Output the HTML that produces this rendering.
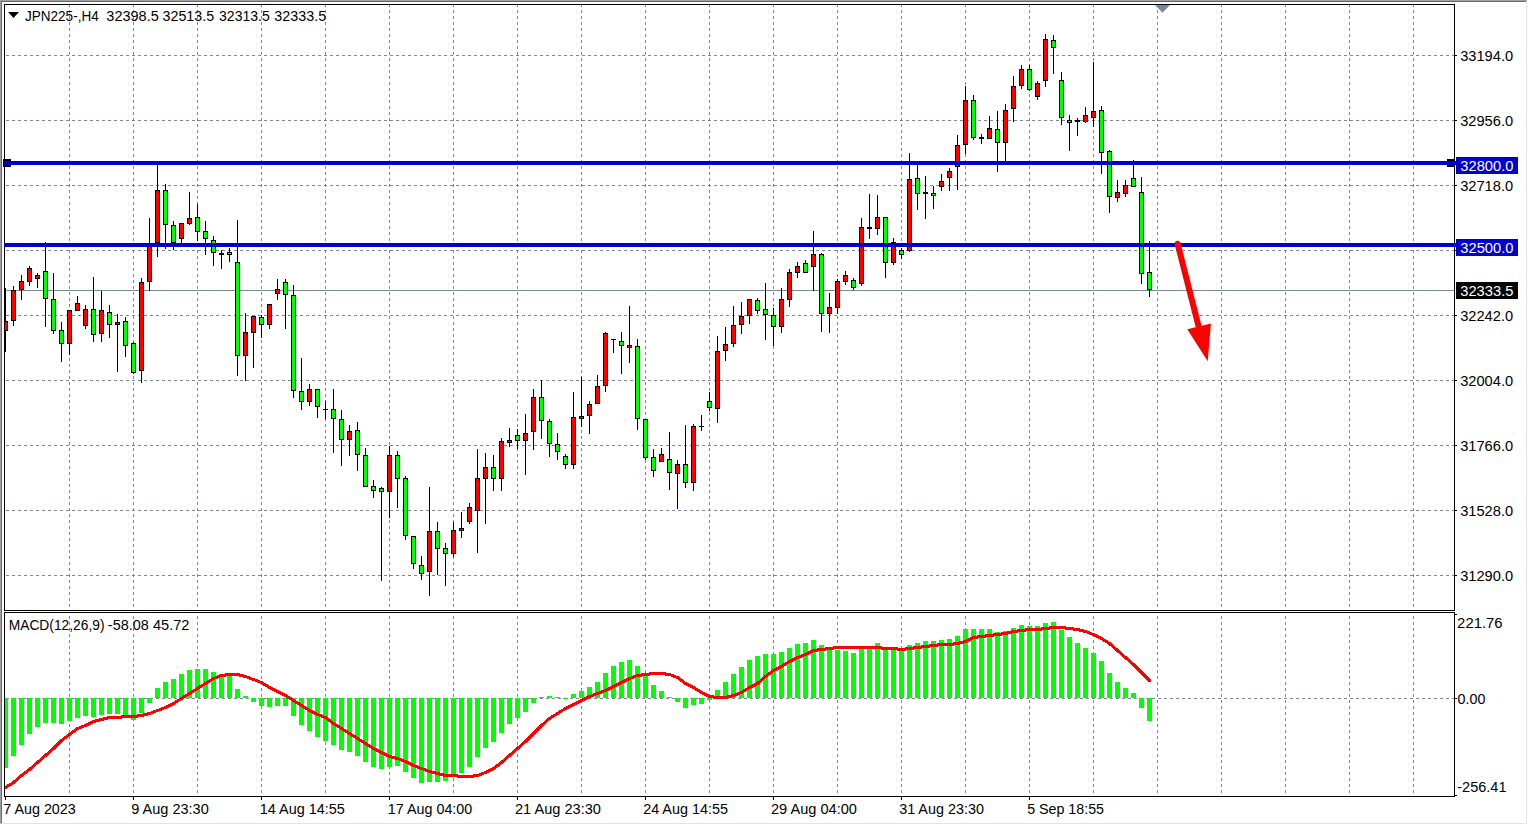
<!DOCTYPE html>
<html><head><meta charset="utf-8"><title>JPN225-,H4</title>
<style>
html,body{margin:0;padding:0;background:#fff;width:1528px;height:825px;overflow:hidden;}
svg{display:block;}
text{font-family:"Liberation Sans", Tahoma, sans-serif;}
</style></head><body>
<svg width="1528" height="825" viewBox="0 0 1528 825" shape-rendering="crispEdges"><rect x="0" y="0" width="1528" height="825" fill="#ffffff"/><rect x="0" y="0" width="1527" height="1" fill="#a0a0a0"/><rect x="0" y="0" width="1" height="824" fill="#a0a0a0"/><rect x="1" y="1" width="1526" height="1" fill="#696969"/><rect x="1" y="1" width="1" height="823" fill="#696969"/><rect x="1526" y="1" width="1" height="823" fill="#e3e3e3"/><rect x="1" y="823" width="1526" height="1" fill="#e3e3e3"/><g stroke="#778899" stroke-width="1" stroke-dasharray="3 3" fill="none"><line x1="69.5" y1="4" x2="69.5" y2="610" /><line x1="69.5" y1="616" x2="69.5" y2="796" /><line x1="133.5" y1="4" x2="133.5" y2="610" /><line x1="133.5" y1="616" x2="133.5" y2="796" /><line x1="197.5" y1="4" x2="197.5" y2="610" /><line x1="197.5" y1="616" x2="197.5" y2="796" /><line x1="261.5" y1="4" x2="261.5" y2="610" /><line x1="261.5" y1="616" x2="261.5" y2="796" /><line x1="325.5" y1="4" x2="325.5" y2="610" /><line x1="325.5" y1="616" x2="325.5" y2="796" /><line x1="389.5" y1="4" x2="389.5" y2="610" /><line x1="389.5" y1="616" x2="389.5" y2="796" /><line x1="453.5" y1="4" x2="453.5" y2="610" /><line x1="453.5" y1="616" x2="453.5" y2="796" /><line x1="517.5" y1="4" x2="517.5" y2="610" /><line x1="517.5" y1="616" x2="517.5" y2="796" /><line x1="581.5" y1="4" x2="581.5" y2="610" /><line x1="581.5" y1="616" x2="581.5" y2="796" /><line x1="645.5" y1="4" x2="645.5" y2="610" /><line x1="645.5" y1="616" x2="645.5" y2="796" /><line x1="709.5" y1="4" x2="709.5" y2="610" /><line x1="709.5" y1="616" x2="709.5" y2="796" /><line x1="773.5" y1="4" x2="773.5" y2="610" /><line x1="773.5" y1="616" x2="773.5" y2="796" /><line x1="837.5" y1="4" x2="837.5" y2="610" /><line x1="837.5" y1="616" x2="837.5" y2="796" /><line x1="901.5" y1="4" x2="901.5" y2="610" /><line x1="901.5" y1="616" x2="901.5" y2="796" /><line x1="965.5" y1="4" x2="965.5" y2="610" /><line x1="965.5" y1="616" x2="965.5" y2="796" /><line x1="1029.5" y1="4" x2="1029.5" y2="610" /><line x1="1029.5" y1="616" x2="1029.5" y2="796" /><line x1="1093.5" y1="4" x2="1093.5" y2="610" /><line x1="1093.5" y1="616" x2="1093.5" y2="796" /><line x1="1157.5" y1="4" x2="1157.5" y2="610" /><line x1="1157.5" y1="616" x2="1157.5" y2="796" /><line x1="1221.5" y1="4" x2="1221.5" y2="610" /><line x1="1221.5" y1="616" x2="1221.5" y2="796" /><line x1="1285.5" y1="4" x2="1285.5" y2="610" /><line x1="1285.5" y1="616" x2="1285.5" y2="796" /><line x1="1349.5" y1="4" x2="1349.5" y2="610" /><line x1="1349.5" y1="616" x2="1349.5" y2="796" /><line x1="1413.5" y1="4" x2="1413.5" y2="610" /><line x1="1413.5" y1="616" x2="1413.5" y2="796" /><line x1="6" y1="55.5" x2="1454" y2="55.5" /><line x1="6" y1="120.5" x2="1454" y2="120.5" /><line x1="6" y1="185.5" x2="1454" y2="185.5" /><line x1="6" y1="250.5" x2="1454" y2="250.5" /><line x1="6" y1="315.5" x2="1454" y2="315.5" /><line x1="6" y1="380.5" x2="1454" y2="380.5" /><line x1="6" y1="445.5" x2="1454" y2="445.5" /><line x1="6" y1="510.5" x2="1454" y2="510.5" /><line x1="6" y1="575.5" x2="1454" y2="575.5" /><line x1="6" y1="698.5" x2="1454" y2="698.5" /></g><g fill="none" stroke="#000" stroke-width="1"><rect x="4.5" y="4.5" width="1450" height="606"/><rect x="4.5" y="612.5" width="1450" height="184"/></g><rect x="5" y="290" width="1449" height="1" fill="#778899"/><defs><clipPath id="cm"><rect x="5" y="5" width="1449" height="605"/></clipPath><clipPath id="cs"><rect x="5" y="613" width="1449" height="183"/></clipPath></defs><g clip-path="url(#cm)"><rect x="5" y="288" width="1" height="64" fill="#000"/><rect x="3" y="321" width="5" height="10" fill="#000"/><rect x="4" y="322" width="3" height="8" fill="#ff0000"/><rect x="13" y="286" width="1" height="40" fill="#000"/><rect x="11" y="290" width="5" height="31" fill="#000"/><rect x="12" y="291" width="3" height="29" fill="#ff0000"/><rect x="21" y="275" width="1" height="25" fill="#000"/><rect x="19" y="281" width="5" height="9" fill="#000"/><rect x="20" y="282" width="3" height="7" fill="#ff0000"/><rect x="29" y="266" width="1" height="20" fill="#000"/><rect x="27" y="268" width="5" height="14" fill="#000"/><rect x="28" y="269" width="3" height="12" fill="#ff0000"/><rect x="37" y="273" width="1" height="15" fill="#000"/><rect x="35" y="275" width="5" height="4" fill="#000"/><rect x="36" y="276" width="3" height="2" fill="#ff0000"/><rect x="45" y="242" width="1" height="85" fill="#000"/><rect x="43" y="271" width="5" height="28" fill="#000"/><rect x="44" y="272" width="3" height="26" fill="#00ff00"/><rect x="53" y="273" width="1" height="61" fill="#000"/><rect x="51" y="299" width="5" height="32" fill="#000"/><rect x="52" y="300" width="3" height="30" fill="#00ff00"/><rect x="61" y="322" width="1" height="40" fill="#000"/><rect x="59" y="330" width="5" height="14" fill="#000"/><rect x="60" y="331" width="3" height="12" fill="#00ff00"/><rect x="69" y="310" width="1" height="45" fill="#000"/><rect x="67" y="310" width="5" height="34" fill="#000"/><rect x="68" y="311" width="3" height="32" fill="#ff0000"/><rect x="77" y="296" width="1" height="15" fill="#000"/><rect x="75" y="303" width="5" height="8" fill="#000"/><rect x="76" y="304" width="3" height="6" fill="#ff0000"/><rect x="85" y="305" width="1" height="24" fill="#000"/><rect x="83" y="309" width="5" height="17" fill="#000"/><rect x="84" y="310" width="3" height="15" fill="#ff0000"/><rect x="93" y="277" width="1" height="65" fill="#000"/><rect x="91" y="309" width="5" height="26" fill="#000"/><rect x="92" y="310" width="3" height="24" fill="#00ff00"/><rect x="101" y="291" width="1" height="51" fill="#000"/><rect x="99" y="310" width="5" height="24" fill="#000"/><rect x="100" y="311" width="3" height="22" fill="#ff0000"/><rect x="109" y="305" width="1" height="33" fill="#000"/><rect x="107" y="312" width="5" height="13" fill="#000"/><rect x="108" y="313" width="3" height="11" fill="#00ff00"/><rect x="117" y="314" width="1" height="58" fill="#000"/><rect x="115" y="322" width="5" height="3" fill="#000"/><rect x="116" y="323" width="3" height="1" fill="#ff0000"/><rect x="125" y="317" width="1" height="40" fill="#000"/><rect x="123" y="321" width="5" height="25" fill="#000"/><rect x="124" y="322" width="3" height="23" fill="#00ff00"/><rect x="133" y="342" width="1" height="32" fill="#000"/><rect x="131" y="343" width="5" height="30" fill="#000"/><rect x="132" y="344" width="3" height="28" fill="#00ff00"/><rect x="141" y="278" width="1" height="105" fill="#000"/><rect x="139" y="282" width="5" height="89" fill="#000"/><rect x="140" y="283" width="3" height="87" fill="#ff0000"/><rect x="149" y="218" width="1" height="73" fill="#000"/><rect x="147" y="246" width="5" height="36" fill="#000"/><rect x="148" y="247" width="3" height="34" fill="#ff0000"/><rect x="157" y="165" width="1" height="92" fill="#000"/><rect x="155" y="190" width="5" height="53" fill="#000"/><rect x="156" y="191" width="3" height="51" fill="#ff0000"/><rect x="165" y="184" width="1" height="65" fill="#000"/><rect x="163" y="190" width="5" height="35" fill="#000"/><rect x="164" y="191" width="3" height="33" fill="#00ff00"/><rect x="173" y="221" width="1" height="29" fill="#000"/><rect x="171" y="225" width="5" height="18" fill="#000"/><rect x="172" y="226" width="3" height="16" fill="#00ff00"/><rect x="181" y="223" width="1" height="20" fill="#000"/><rect x="179" y="223" width="5" height="16" fill="#000"/><rect x="180" y="224" width="3" height="14" fill="#ff0000"/><rect x="189" y="192" width="1" height="33" fill="#000"/><rect x="187" y="218" width="5" height="6" fill="#000"/><rect x="188" y="219" width="3" height="4" fill="#ff0000"/><rect x="197" y="204" width="1" height="37" fill="#000"/><rect x="195" y="217" width="5" height="15" fill="#000"/><rect x="196" y="218" width="3" height="13" fill="#00ff00"/><rect x="205" y="221" width="1" height="34" fill="#000"/><rect x="203" y="231" width="5" height="8" fill="#000"/><rect x="204" y="232" width="3" height="6" fill="#00ff00"/><rect x="213" y="236" width="1" height="30" fill="#000"/><rect x="211" y="240" width="5" height="13" fill="#000"/><rect x="212" y="241" width="3" height="11" fill="#00ff00"/><rect x="221" y="250" width="1" height="19" fill="#000"/><rect x="219" y="253" width="5" height="2" fill="#000"/><rect x="229" y="248" width="1" height="14" fill="#000"/><rect x="227" y="252" width="5" height="3" fill="#000"/><rect x="228" y="253" width="3" height="1" fill="#00ff00"/><rect x="237" y="220" width="1" height="156" fill="#000"/><rect x="235" y="262" width="5" height="94" fill="#000"/><rect x="236" y="263" width="3" height="92" fill="#00ff00"/><rect x="245" y="313" width="1" height="68" fill="#000"/><rect x="243" y="332" width="5" height="24" fill="#000"/><rect x="244" y="333" width="3" height="22" fill="#ff0000"/><rect x="253" y="316" width="1" height="52" fill="#000"/><rect x="251" y="316" width="5" height="17" fill="#000"/><rect x="252" y="317" width="3" height="15" fill="#ff0000"/><rect x="261" y="315" width="1" height="23" fill="#000"/><rect x="259" y="317" width="5" height="8" fill="#000"/><rect x="260" y="318" width="3" height="6" fill="#00ff00"/><rect x="269" y="304" width="1" height="25" fill="#000"/><rect x="267" y="304" width="5" height="21" fill="#000"/><rect x="268" y="305" width="3" height="19" fill="#ff0000"/><rect x="277" y="279" width="1" height="21" fill="#000"/><rect x="275" y="289" width="5" height="5" fill="#000"/><rect x="276" y="290" width="3" height="3" fill="#ff0000"/><rect x="285" y="279" width="1" height="50" fill="#000"/><rect x="283" y="282" width="5" height="13" fill="#000"/><rect x="284" y="283" width="3" height="11" fill="#00ff00"/><rect x="293" y="285" width="1" height="113" fill="#000"/><rect x="291" y="295" width="5" height="96" fill="#000"/><rect x="292" y="296" width="3" height="94" fill="#00ff00"/><rect x="301" y="358" width="1" height="52" fill="#000"/><rect x="299" y="391" width="5" height="11" fill="#000"/><rect x="300" y="392" width="3" height="9" fill="#00ff00"/><rect x="309" y="384" width="1" height="22" fill="#000"/><rect x="307" y="389" width="5" height="13" fill="#000"/><rect x="308" y="390" width="3" height="11" fill="#ff0000"/><rect x="317" y="389" width="1" height="29" fill="#000"/><rect x="315" y="389" width="5" height="18" fill="#000"/><rect x="316" y="390" width="3" height="16" fill="#00ff00"/><rect x="325" y="401" width="1" height="18" fill="#000"/><rect x="323" y="409" width="5" height="1" fill="#000"/><rect x="333" y="389" width="1" height="64" fill="#000"/><rect x="331" y="409" width="5" height="10" fill="#000"/><rect x="332" y="410" width="3" height="8" fill="#00ff00"/><rect x="341" y="410" width="1" height="56" fill="#000"/><rect x="339" y="419" width="5" height="21" fill="#000"/><rect x="340" y="420" width="3" height="19" fill="#00ff00"/><rect x="349" y="425" width="1" height="31" fill="#000"/><rect x="347" y="431" width="5" height="9" fill="#000"/><rect x="348" y="432" width="3" height="7" fill="#ff0000"/><rect x="357" y="422" width="1" height="49" fill="#000"/><rect x="355" y="430" width="5" height="25" fill="#000"/><rect x="356" y="431" width="3" height="23" fill="#00ff00"/><rect x="365" y="448" width="1" height="39" fill="#000"/><rect x="363" y="455" width="5" height="32" fill="#000"/><rect x="364" y="456" width="3" height="30" fill="#00ff00"/><rect x="373" y="480" width="1" height="18" fill="#000"/><rect x="371" y="486" width="5" height="5" fill="#000"/><rect x="372" y="487" width="3" height="3" fill="#00ff00"/><rect x="381" y="487" width="1" height="94" fill="#000"/><rect x="379" y="488" width="5" height="4" fill="#000"/><rect x="380" y="489" width="3" height="2" fill="#00ff00"/><rect x="389" y="446" width="1" height="72" fill="#000"/><rect x="387" y="455" width="5" height="37" fill="#000"/><rect x="388" y="456" width="3" height="35" fill="#ff0000"/><rect x="397" y="451" width="1" height="57" fill="#000"/><rect x="395" y="455" width="5" height="24" fill="#000"/><rect x="396" y="456" width="3" height="22" fill="#00ff00"/><rect x="405" y="476" width="1" height="64" fill="#000"/><rect x="403" y="478" width="5" height="58" fill="#000"/><rect x="404" y="479" width="3" height="56" fill="#00ff00"/><rect x="413" y="536" width="1" height="33" fill="#000"/><rect x="411" y="536" width="5" height="28" fill="#000"/><rect x="412" y="537" width="3" height="26" fill="#00ff00"/><rect x="421" y="556" width="1" height="24" fill="#000"/><rect x="419" y="565" width="5" height="9" fill="#000"/><rect x="420" y="566" width="3" height="7" fill="#00ff00"/><rect x="429" y="487" width="1" height="109" fill="#000"/><rect x="427" y="531" width="5" height="41" fill="#000"/><rect x="428" y="532" width="3" height="39" fill="#ff0000"/><rect x="437" y="522" width="1" height="53" fill="#000"/><rect x="435" y="531" width="5" height="18" fill="#000"/><rect x="436" y="532" width="3" height="16" fill="#00ff00"/><rect x="445" y="543" width="1" height="43" fill="#000"/><rect x="443" y="548" width="5" height="6" fill="#000"/><rect x="444" y="549" width="3" height="4" fill="#00ff00"/><rect x="453" y="522" width="1" height="35" fill="#000"/><rect x="451" y="530" width="5" height="24" fill="#000"/><rect x="452" y="531" width="3" height="22" fill="#ff0000"/><rect x="461" y="512" width="1" height="26" fill="#000"/><rect x="459" y="528" width="5" height="3" fill="#000"/><rect x="460" y="529" width="3" height="1" fill="#ff0000"/><rect x="469" y="503" width="1" height="21" fill="#000"/><rect x="467" y="507" width="5" height="15" fill="#000"/><rect x="468" y="508" width="3" height="13" fill="#ff0000"/><rect x="477" y="449" width="1" height="104" fill="#000"/><rect x="475" y="478" width="5" height="33" fill="#000"/><rect x="476" y="479" width="3" height="31" fill="#ff0000"/><rect x="485" y="453" width="1" height="71" fill="#000"/><rect x="483" y="467" width="5" height="12" fill="#000"/><rect x="484" y="468" width="3" height="10" fill="#ff0000"/><rect x="493" y="455" width="1" height="36" fill="#000"/><rect x="491" y="467" width="5" height="12" fill="#000"/><rect x="492" y="468" width="3" height="10" fill="#00ff00"/><rect x="501" y="438" width="1" height="53" fill="#000"/><rect x="499" y="441" width="5" height="38" fill="#000"/><rect x="500" y="442" width="3" height="36" fill="#ff0000"/><rect x="509" y="428" width="1" height="19" fill="#000"/><rect x="507" y="440" width="5" height="3" fill="#000"/><rect x="508" y="441" width="3" height="1" fill="#ff0000"/><rect x="517" y="429" width="1" height="20" fill="#000"/><rect x="515" y="435" width="5" height="6" fill="#000"/><rect x="516" y="436" width="3" height="4" fill="#00ff00"/><rect x="525" y="414" width="1" height="61" fill="#000"/><rect x="523" y="433" width="5" height="8" fill="#000"/><rect x="524" y="434" width="3" height="6" fill="#ff0000"/><rect x="533" y="389" width="1" height="61" fill="#000"/><rect x="531" y="397" width="5" height="35" fill="#000"/><rect x="532" y="398" width="3" height="33" fill="#ff0000"/><rect x="541" y="380" width="1" height="59" fill="#000"/><rect x="539" y="397" width="5" height="24" fill="#000"/><rect x="540" y="398" width="3" height="22" fill="#00ff00"/><rect x="549" y="419" width="1" height="38" fill="#000"/><rect x="547" y="421" width="5" height="23" fill="#000"/><rect x="548" y="422" width="3" height="21" fill="#00ff00"/><rect x="557" y="433" width="1" height="27" fill="#000"/><rect x="555" y="444" width="5" height="8" fill="#000"/><rect x="556" y="445" width="3" height="6" fill="#00ff00"/><rect x="565" y="454" width="1" height="15" fill="#000"/><rect x="563" y="456" width="5" height="9" fill="#000"/><rect x="564" y="457" width="3" height="7" fill="#00ff00"/><rect x="573" y="392" width="1" height="77" fill="#000"/><rect x="571" y="417" width="5" height="48" fill="#000"/><rect x="572" y="418" width="3" height="46" fill="#ff0000"/><rect x="581" y="377" width="1" height="50" fill="#000"/><rect x="579" y="416" width="5" height="3" fill="#000"/><rect x="580" y="417" width="3" height="1" fill="#ff0000"/><rect x="589" y="401" width="1" height="33" fill="#000"/><rect x="587" y="404" width="5" height="12" fill="#000"/><rect x="588" y="405" width="3" height="10" fill="#ff0000"/><rect x="597" y="375" width="1" height="29" fill="#000"/><rect x="595" y="386" width="5" height="18" fill="#000"/><rect x="596" y="387" width="3" height="16" fill="#ff0000"/><rect x="605" y="332" width="1" height="60" fill="#000"/><rect x="603" y="333" width="5" height="53" fill="#000"/><rect x="604" y="334" width="3" height="51" fill="#ff0000"/><rect x="613" y="339" width="1" height="14" fill="#000"/><rect x="611" y="339" width="5" height="1" fill="#000"/><rect x="621" y="332" width="1" height="42" fill="#000"/><rect x="619" y="341" width="5" height="5" fill="#000"/><rect x="620" y="342" width="3" height="3" fill="#00ff00"/><rect x="629" y="306" width="1" height="57" fill="#000"/><rect x="627" y="345" width="5" height="3" fill="#000"/><rect x="628" y="346" width="3" height="1" fill="#ff0000"/><rect x="637" y="339" width="1" height="91" fill="#000"/><rect x="635" y="346" width="5" height="73" fill="#000"/><rect x="636" y="347" width="3" height="71" fill="#00ff00"/><rect x="645" y="419" width="1" height="41" fill="#000"/><rect x="643" y="419" width="5" height="39" fill="#000"/><rect x="644" y="420" width="3" height="37" fill="#00ff00"/><rect x="653" y="449" width="1" height="28" fill="#000"/><rect x="651" y="457" width="5" height="14" fill="#000"/><rect x="652" y="458" width="3" height="12" fill="#00ff00"/><rect x="661" y="448" width="1" height="14" fill="#000"/><rect x="659" y="454" width="5" height="8" fill="#000"/><rect x="660" y="455" width="3" height="6" fill="#ff0000"/><rect x="669" y="432" width="1" height="58" fill="#000"/><rect x="667" y="459" width="5" height="14" fill="#000"/><rect x="668" y="460" width="3" height="12" fill="#00ff00"/><rect x="677" y="460" width="1" height="49" fill="#000"/><rect x="675" y="464" width="5" height="10" fill="#000"/><rect x="676" y="465" width="3" height="8" fill="#ff0000"/><rect x="685" y="425" width="1" height="63" fill="#000"/><rect x="683" y="464" width="5" height="19" fill="#000"/><rect x="684" y="465" width="3" height="17" fill="#00ff00"/><rect x="693" y="424" width="1" height="67" fill="#000"/><rect x="691" y="426" width="5" height="57" fill="#000"/><rect x="692" y="427" width="3" height="55" fill="#ff0000"/><rect x="701" y="415" width="1" height="16" fill="#000"/><rect x="699" y="426" width="5" height="1" fill="#000"/><rect x="709" y="392" width="1" height="19" fill="#000"/><rect x="707" y="401" width="5" height="7" fill="#000"/><rect x="708" y="402" width="3" height="5" fill="#00ff00"/><rect x="717" y="336" width="1" height="87" fill="#000"/><rect x="715" y="351" width="5" height="58" fill="#000"/><rect x="716" y="352" width="3" height="56" fill="#ff0000"/><rect x="725" y="327" width="1" height="34" fill="#000"/><rect x="723" y="344" width="5" height="7" fill="#000"/><rect x="724" y="345" width="3" height="5" fill="#ff0000"/><rect x="733" y="306" width="1" height="41" fill="#000"/><rect x="731" y="325" width="5" height="19" fill="#000"/><rect x="732" y="326" width="3" height="17" fill="#ff0000"/><rect x="741" y="302" width="1" height="32" fill="#000"/><rect x="739" y="316" width="5" height="9" fill="#000"/><rect x="740" y="317" width="3" height="7" fill="#ff0000"/><rect x="749" y="299" width="1" height="25" fill="#000"/><rect x="747" y="299" width="5" height="17" fill="#000"/><rect x="748" y="300" width="3" height="15" fill="#ff0000"/><rect x="757" y="298" width="1" height="16" fill="#000"/><rect x="755" y="300" width="5" height="11" fill="#000"/><rect x="756" y="301" width="3" height="9" fill="#00ff00"/><rect x="765" y="283" width="1" height="57" fill="#000"/><rect x="763" y="309" width="5" height="6" fill="#000"/><rect x="764" y="310" width="3" height="4" fill="#00ff00"/><rect x="773" y="308" width="1" height="38" fill="#000"/><rect x="771" y="315" width="5" height="12" fill="#000"/><rect x="772" y="316" width="3" height="10" fill="#00ff00"/><rect x="781" y="288" width="1" height="45" fill="#000"/><rect x="779" y="299" width="5" height="28" fill="#000"/><rect x="780" y="300" width="3" height="26" fill="#ff0000"/><rect x="789" y="269" width="1" height="38" fill="#000"/><rect x="787" y="272" width="5" height="28" fill="#000"/><rect x="788" y="273" width="3" height="26" fill="#ff0000"/><rect x="797" y="262" width="1" height="16" fill="#000"/><rect x="795" y="266" width="5" height="7" fill="#000"/><rect x="796" y="267" width="3" height="5" fill="#ff0000"/><rect x="805" y="260" width="1" height="13" fill="#000"/><rect x="803" y="263" width="5" height="10" fill="#000"/><rect x="804" y="264" width="3" height="8" fill="#00ff00"/><rect x="813" y="231" width="1" height="60" fill="#000"/><rect x="811" y="254" width="5" height="13" fill="#000"/><rect x="812" y="255" width="3" height="11" fill="#ff0000"/><rect x="821" y="253" width="1" height="79" fill="#000"/><rect x="819" y="254" width="5" height="60" fill="#000"/><rect x="820" y="255" width="3" height="58" fill="#00ff00"/><rect x="829" y="293" width="1" height="40" fill="#000"/><rect x="827" y="307" width="5" height="7" fill="#000"/><rect x="828" y="308" width="3" height="5" fill="#ff0000"/><rect x="837" y="279" width="1" height="35" fill="#000"/><rect x="835" y="281" width="5" height="27" fill="#000"/><rect x="836" y="282" width="3" height="25" fill="#ff0000"/><rect x="845" y="271" width="1" height="14" fill="#000"/><rect x="843" y="275" width="5" height="7" fill="#000"/><rect x="844" y="276" width="3" height="5" fill="#ff0000"/><rect x="853" y="278" width="1" height="12" fill="#000"/><rect x="851" y="280" width="5" height="8" fill="#000"/><rect x="852" y="281" width="3" height="6" fill="#00ff00"/><rect x="861" y="218" width="1" height="68" fill="#000"/><rect x="859" y="227" width="5" height="57" fill="#000"/><rect x="860" y="228" width="3" height="55" fill="#ff0000"/><rect x="869" y="194" width="1" height="45" fill="#000"/><rect x="867" y="227" width="5" height="2" fill="#000"/><rect x="877" y="195" width="1" height="40" fill="#000"/><rect x="875" y="217" width="5" height="12" fill="#000"/><rect x="876" y="218" width="3" height="10" fill="#ff0000"/><rect x="885" y="217" width="1" height="61" fill="#000"/><rect x="883" y="217" width="5" height="46" fill="#000"/><rect x="884" y="218" width="3" height="44" fill="#00ff00"/><rect x="893" y="238" width="1" height="27" fill="#000"/><rect x="891" y="242" width="5" height="21" fill="#000"/><rect x="892" y="243" width="3" height="19" fill="#ff0000"/><rect x="901" y="248" width="1" height="11" fill="#000"/><rect x="899" y="250" width="5" height="5" fill="#000"/><rect x="900" y="251" width="3" height="3" fill="#00ff00"/><rect x="909" y="153" width="1" height="99" fill="#000"/><rect x="907" y="179" width="5" height="72" fill="#000"/><rect x="908" y="180" width="3" height="70" fill="#ff0000"/><rect x="917" y="165" width="1" height="45" fill="#000"/><rect x="915" y="178" width="5" height="16" fill="#000"/><rect x="916" y="179" width="3" height="14" fill="#00ff00"/><rect x="925" y="176" width="1" height="43" fill="#000"/><rect x="923" y="192" width="5" height="2" fill="#000"/><rect x="933" y="186" width="1" height="23" fill="#000"/><rect x="931" y="193" width="5" height="3" fill="#000"/><rect x="932" y="194" width="3" height="1" fill="#00ff00"/><rect x="941" y="174" width="1" height="17" fill="#000"/><rect x="939" y="181" width="5" height="6" fill="#000"/><rect x="940" y="182" width="3" height="4" fill="#ff0000"/><rect x="949" y="168" width="1" height="23" fill="#000"/><rect x="947" y="171" width="5" height="7" fill="#000"/><rect x="948" y="172" width="3" height="5" fill="#ff0000"/><rect x="957" y="135" width="1" height="55" fill="#000"/><rect x="955" y="145" width="5" height="22" fill="#000"/><rect x="956" y="146" width="3" height="20" fill="#ff0000"/><rect x="965" y="86" width="1" height="68" fill="#000"/><rect x="963" y="100" width="5" height="45" fill="#000"/><rect x="964" y="101" width="3" height="43" fill="#ff0000"/><rect x="973" y="95" width="1" height="45" fill="#000"/><rect x="971" y="100" width="5" height="38" fill="#000"/><rect x="972" y="101" width="3" height="36" fill="#00ff00"/><rect x="981" y="134" width="1" height="10" fill="#000"/><rect x="979" y="137" width="5" height="2" fill="#000"/><rect x="989" y="116" width="1" height="23" fill="#000"/><rect x="987" y="128" width="5" height="11" fill="#000"/><rect x="988" y="129" width="3" height="9" fill="#ff0000"/><rect x="997" y="111" width="1" height="61" fill="#000"/><rect x="995" y="129" width="5" height="14" fill="#000"/><rect x="996" y="130" width="3" height="12" fill="#00ff00"/><rect x="1005" y="104" width="1" height="57" fill="#000"/><rect x="1003" y="110" width="5" height="33" fill="#000"/><rect x="1004" y="111" width="3" height="31" fill="#ff0000"/><rect x="1013" y="76" width="1" height="46" fill="#000"/><rect x="1011" y="86" width="5" height="23" fill="#000"/><rect x="1012" y="87" width="3" height="21" fill="#ff0000"/><rect x="1021" y="65" width="1" height="24" fill="#000"/><rect x="1019" y="69" width="5" height="17" fill="#000"/><rect x="1020" y="70" width="3" height="15" fill="#ff0000"/><rect x="1029" y="65" width="1" height="26" fill="#000"/><rect x="1027" y="69" width="5" height="21" fill="#000"/><rect x="1028" y="70" width="3" height="19" fill="#00ff00"/><rect x="1037" y="81" width="1" height="19" fill="#000"/><rect x="1035" y="83" width="5" height="14" fill="#000"/><rect x="1036" y="84" width="3" height="12" fill="#ff0000"/><rect x="1045" y="34" width="1" height="53" fill="#000"/><rect x="1043" y="39" width="5" height="42" fill="#000"/><rect x="1044" y="40" width="3" height="40" fill="#ff0000"/><rect x="1053" y="35" width="1" height="39" fill="#000"/><rect x="1051" y="40" width="5" height="8" fill="#000"/><rect x="1052" y="41" width="3" height="6" fill="#00ff00"/><rect x="1061" y="72" width="1" height="53" fill="#000"/><rect x="1059" y="80" width="5" height="38" fill="#000"/><rect x="1060" y="81" width="3" height="36" fill="#00ff00"/><rect x="1069" y="115" width="1" height="36" fill="#000"/><rect x="1067" y="120" width="5" height="3" fill="#000"/><rect x="1068" y="121" width="3" height="1" fill="#00ff00"/><rect x="1077" y="118" width="1" height="18" fill="#000"/><rect x="1075" y="120" width="5" height="2" fill="#000"/><rect x="1085" y="107" width="1" height="16" fill="#000"/><rect x="1083" y="115" width="5" height="7" fill="#000"/><rect x="1084" y="116" width="3" height="5" fill="#ff0000"/><rect x="1093" y="62" width="1" height="65" fill="#000"/><rect x="1091" y="111" width="5" height="7" fill="#000"/><rect x="1092" y="112" width="3" height="5" fill="#ff0000"/><rect x="1101" y="106" width="1" height="68" fill="#000"/><rect x="1099" y="110" width="5" height="43" fill="#000"/><rect x="1100" y="111" width="3" height="41" fill="#00ff00"/><rect x="1109" y="150" width="1" height="63" fill="#000"/><rect x="1107" y="151" width="5" height="46" fill="#000"/><rect x="1108" y="152" width="3" height="44" fill="#00ff00"/><rect x="1117" y="180" width="1" height="22" fill="#000"/><rect x="1115" y="192" width="5" height="6" fill="#000"/><rect x="1116" y="193" width="3" height="4" fill="#ff0000"/><rect x="1125" y="180" width="1" height="17" fill="#000"/><rect x="1123" y="185" width="5" height="9" fill="#000"/><rect x="1124" y="186" width="3" height="7" fill="#ff0000"/><rect x="1133" y="160" width="1" height="27" fill="#000"/><rect x="1131" y="178" width="5" height="9" fill="#000"/><rect x="1132" y="179" width="3" height="7" fill="#00ff00"/><rect x="1141" y="177" width="1" height="107" fill="#000"/><rect x="1139" y="192" width="5" height="82" fill="#000"/><rect x="1140" y="193" width="3" height="80" fill="#00ff00"/><rect x="1149" y="241" width="1" height="56" fill="#000"/><rect x="1147" y="272" width="5" height="18" fill="#000"/><rect x="1148" y="273" width="3" height="16" fill="#00ff00"/></g><rect x="3" y="159" width="8" height="8" fill="#000"/><rect x="1447" y="159" width="8" height="8" fill="#000"/><rect x="4" y="161" width="1452" height="4" fill="#0000cd"/><rect x="4" y="243" width="1452" height="4" fill="#0000cd"/><g shape-rendering="auto"><line x1="1177.6" y1="243.7" x2="1199.5" y2="330" stroke="#ff0000" stroke-width="6" stroke-linecap="round"/><polygon points="1187.3,329.3 1210.9,323.6 1207.7,361.2" fill="#ff0000"/></g><g clip-path="url(#cs)" fill="#00ff00"><rect x="3" y="698" width="5" height="70"/><rect x="11" y="698" width="5" height="58"/><rect x="19" y="698" width="5" height="47"/><rect x="27" y="698" width="5" height="36"/><rect x="35" y="698" width="5" height="29"/><rect x="43" y="698" width="5" height="25"/><rect x="51" y="698" width="5" height="25"/><rect x="59" y="698" width="5" height="26"/><rect x="67" y="698" width="5" height="23"/><rect x="75" y="698" width="5" height="20"/><rect x="83" y="698" width="5" height="18"/><rect x="91" y="698" width="5" height="19"/><rect x="99" y="698" width="5" height="17"/><rect x="107" y="698" width="5" height="16"/><rect x="115" y="698" width="5" height="16"/><rect x="123" y="698" width="5" height="18"/><rect x="131" y="698" width="5" height="22"/><rect x="139" y="698" width="5" height="15"/><rect x="147" y="698" width="5" height="5"/><rect x="155" y="688" width="5" height="10"/><rect x="163" y="682" width="5" height="16"/><rect x="171" y="679" width="5" height="19"/><rect x="179" y="674" width="5" height="24"/><rect x="187" y="670" width="5" height="28"/><rect x="195" y="669" width="5" height="29"/><rect x="203" y="669" width="5" height="29"/><rect x="211" y="672" width="5" height="26"/><rect x="219" y="674" width="5" height="24"/><rect x="227" y="673" width="5" height="25"/><rect x="235" y="689" width="5" height="9"/><rect x="243" y="696" width="5" height="2"/><rect x="251" y="698" width="5" height="4"/><rect x="259" y="698" width="5" height="8"/><rect x="267" y="698" width="5" height="9"/><rect x="275" y="698" width="5" height="8"/><rect x="283" y="698" width="5" height="8"/><rect x="291" y="698" width="5" height="18"/><rect x="299" y="698" width="5" height="27"/><rect x="307" y="698" width="5" height="33"/><rect x="315" y="698" width="5" height="39"/><rect x="323" y="698" width="5" height="43"/><rect x="331" y="698" width="5" height="47"/><rect x="339" y="698" width="5" height="52"/><rect x="347" y="698" width="5" height="54"/><rect x="355" y="698" width="5" height="58"/><rect x="363" y="698" width="5" height="64"/><rect x="371" y="698" width="5" height="69"/><rect x="379" y="698" width="5" height="71"/><rect x="387" y="698" width="5" height="69"/><rect x="395" y="698" width="5" height="68"/><rect x="403" y="698" width="5" height="74"/><rect x="411" y="698" width="5" height="80"/><rect x="419" y="698" width="5" height="85"/><rect x="427" y="698" width="5" height="84"/><rect x="435" y="698" width="5" height="84"/><rect x="443" y="698" width="5" height="83"/><rect x="451" y="698" width="5" height="78"/><rect x="459" y="698" width="5" height="75"/><rect x="467" y="698" width="5" height="69"/><rect x="475" y="698" width="5" height="59"/><rect x="483" y="698" width="5" height="50"/><rect x="491" y="698" width="5" height="44"/><rect x="499" y="698" width="5" height="35"/><rect x="507" y="698" width="5" height="26"/><rect x="515" y="698" width="5" height="20"/><rect x="523" y="698" width="5" height="14"/><rect x="531" y="698" width="5" height="5"/><rect x="539" y="697" width="5" height="1"/><rect x="547" y="696" width="5" height="2"/><rect x="555" y="697" width="5" height="1"/><rect x="563" y="698" width="5" height="1"/><rect x="571" y="694" width="5" height="4"/><rect x="579" y="691" width="5" height="7"/><rect x="587" y="687" width="5" height="11"/><rect x="595" y="682" width="5" height="16"/><rect x="603" y="673" width="5" height="25"/><rect x="611" y="666" width="5" height="32"/><rect x="619" y="662" width="5" height="36"/><rect x="627" y="660" width="5" height="38"/><rect x="635" y="666" width="5" height="32"/><rect x="643" y="673" width="5" height="25"/><rect x="651" y="685" width="5" height="13"/><rect x="659" y="691" width="5" height="7"/><rect x="667" y="697" width="5" height="1"/><rect x="675" y="698" width="5" height="4"/><rect x="683" y="698" width="5" height="10"/><rect x="691" y="698" width="5" height="7"/><rect x="699" y="698" width="5" height="6"/><rect x="707" y="698" width="5" height="2"/><rect x="715" y="690" width="5" height="8"/><rect x="723" y="682" width="5" height="16"/><rect x="731" y="674" width="5" height="24"/><rect x="739" y="667" width="5" height="31"/><rect x="747" y="660" width="5" height="38"/><rect x="755" y="656" width="5" height="42"/><rect x="763" y="654" width="5" height="44"/><rect x="771" y="654" width="5" height="44"/><rect x="779" y="652" width="5" height="46"/><rect x="787" y="648" width="5" height="50"/><rect x="795" y="644" width="5" height="54"/><rect x="803" y="643" width="5" height="55"/><rect x="811" y="640" width="5" height="58"/><rect x="819" y="645" width="5" height="53"/><rect x="827" y="647" width="5" height="51"/><rect x="835" y="650" width="5" height="48"/><rect x="843" y="651" width="5" height="47"/><rect x="851" y="653" width="5" height="45"/><rect x="859" y="647" width="5" height="51"/><rect x="867" y="647" width="5" height="51"/><rect x="875" y="643" width="5" height="55"/><rect x="883" y="648" width="5" height="50"/><rect x="891" y="648" width="5" height="50"/><rect x="899" y="649" width="5" height="49"/><rect x="907" y="645" width="5" height="53"/><rect x="915" y="643" width="5" height="55"/><rect x="923" y="641" width="5" height="57"/><rect x="931" y="641" width="5" height="57"/><rect x="939" y="640" width="5" height="58"/><rect x="947" y="639" width="5" height="59"/><rect x="955" y="636" width="5" height="62"/><rect x="963" y="629" width="5" height="69"/><rect x="971" y="629" width="5" height="69"/><rect x="979" y="629" width="5" height="69"/><rect x="987" y="629" width="5" height="69"/><rect x="995" y="632" width="5" height="66"/><rect x="1003" y="631" width="5" height="67"/><rect x="1011" y="628" width="5" height="70"/><rect x="1019" y="625" width="5" height="73"/><rect x="1027" y="626" width="5" height="72"/><rect x="1035" y="626" width="5" height="72"/><rect x="1043" y="623" width="5" height="75"/><rect x="1051" y="622" width="5" height="76"/><rect x="1059" y="630" width="5" height="68"/><rect x="1067" y="637" width="5" height="61"/><rect x="1075" y="643" width="5" height="55"/><rect x="1083" y="648" width="5" height="50"/><rect x="1091" y="653" width="5" height="45"/><rect x="1099" y="661" width="5" height="37"/><rect x="1107" y="673" width="5" height="25"/><rect x="1115" y="682" width="5" height="16"/><rect x="1123" y="688" width="5" height="10"/><rect x="1131" y="693" width="5" height="5"/><rect x="1139" y="698" width="5" height="10"/><rect x="1147" y="698" width="5" height="23"/></g><g clip-path="url(#cs)"><polyline points="3,788.5 5.5,787.5 13.5,782.5 21.5,775.5 29.5,769.5 37.5,762.5 45.5,755.5 53.5,748.5 61.5,740.5 69.5,734.5 77.5,728.5 85.5,725.5 93.5,721.5 101.5,719.5 109.5,717.5 117.5,717.5 125.5,716.5 133.5,716.5 141.5,715.5 149.5,713.5 157.5,710.5 165.5,707.5 173.5,703.5 181.5,698.5 189.5,693.5 197.5,688.5 205.5,683.5 213.5,678.5 221.5,675.5 229.5,674.5 237.5,674.5 245.5,676.5 253.5,679.5 261.5,682.5 269.5,687.5 277.5,691.5 285.5,695.5 293.5,700.5 301.5,705.5 309.5,710.5 317.5,714.5 325.5,717.5 333.5,723.5 341.5,728.5 349.5,733.5 357.5,738.5 365.5,743.5 373.5,748.5 381.5,752.5 389.5,756.5 397.5,758.5 405.5,761.5 413.5,765.5 421.5,768.5 429.5,771.5 437.5,773.5 445.5,775.5 453.5,775.5 461.5,776.5 469.5,776.5 477.5,775.5 485.5,772.5 493.5,768.5 501.5,762.5 509.5,755.5 517.5,748.5 525.5,741.5 533.5,733.5 541.5,725.5 549.5,718.5 557.5,713.5 565.5,708.5 573.5,704.5 581.5,700.5 589.5,696.5 597.5,693.5 605.5,690.5 613.5,686.5 621.5,682.5 629.5,678.5 637.5,675.5 645.5,674.5 653.5,673.5 661.5,673.5 669.5,674.5 677.5,677.5 685.5,683.5 693.5,687.5 701.5,692.5 709.5,696.5 717.5,697.5 725.5,697.5 733.5,695.5 741.5,692.5 749.5,687.5 757.5,683.5 765.5,676.5 773.5,670.5 781.5,666.5 789.5,661.5 797.5,657.5 805.5,654.5 813.5,650.5 821.5,649.5 829.5,648.5 837.5,647.5 845.5,647.5 853.5,647.5 861.5,647.5 869.5,647.5 877.5,647.5 885.5,648.5 893.5,648.5 901.5,649.5 909.5,648.5 917.5,647.5 925.5,646.5 933.5,645.5 941.5,644.5 949.5,644.5 957.5,643.5 965.5,641.5 973.5,637.5 981.5,636.5 989.5,635.5 997.5,634.5 1005.5,633.5 1013.5,631.5 1021.5,630.5 1029.5,629.5 1037.5,629.5 1045.5,628.5 1053.5,627.5 1061.5,627.5 1069.5,628.5 1077.5,629.5 1085.5,631.5 1093.5,634.5 1101.5,638.5 1109.5,643.5 1117.5,650.5 1125.5,657.5 1133.5,664.5 1141.5,672.5 1149.5,680.5" fill="none" stroke="#ff0000" stroke-width="3" stroke-linejoin="miter" shape-rendering="crispEdges"/><rect x="4" y="786" width="3" height="3" fill="#ff0000"/><rect x="12" y="781" width="3" height="3" fill="#ff0000"/><rect x="20" y="774" width="3" height="3" fill="#ff0000"/><rect x="28" y="768" width="3" height="3" fill="#ff0000"/><rect x="36" y="761" width="3" height="3" fill="#ff0000"/><rect x="44" y="754" width="3" height="3" fill="#ff0000"/><rect x="52" y="747" width="3" height="3" fill="#ff0000"/><rect x="60" y="739" width="3" height="3" fill="#ff0000"/><rect x="68" y="733" width="3" height="3" fill="#ff0000"/><rect x="76" y="727" width="3" height="3" fill="#ff0000"/><rect x="84" y="724" width="3" height="3" fill="#ff0000"/><rect x="92" y="720" width="3" height="3" fill="#ff0000"/><rect x="100" y="718" width="3" height="3" fill="#ff0000"/><rect x="108" y="716" width="3" height="3" fill="#ff0000"/><rect x="116" y="716" width="3" height="3" fill="#ff0000"/><rect x="124" y="715" width="3" height="3" fill="#ff0000"/><rect x="132" y="715" width="3" height="3" fill="#ff0000"/><rect x="140" y="714" width="3" height="3" fill="#ff0000"/><rect x="148" y="712" width="3" height="3" fill="#ff0000"/><rect x="156" y="709" width="3" height="3" fill="#ff0000"/><rect x="164" y="706" width="3" height="3" fill="#ff0000"/><rect x="172" y="702" width="3" height="3" fill="#ff0000"/><rect x="180" y="697" width="3" height="3" fill="#ff0000"/><rect x="188" y="692" width="3" height="3" fill="#ff0000"/><rect x="196" y="687" width="3" height="3" fill="#ff0000"/><rect x="204" y="682" width="3" height="3" fill="#ff0000"/><rect x="212" y="677" width="3" height="3" fill="#ff0000"/><rect x="220" y="674" width="3" height="3" fill="#ff0000"/><rect x="228" y="673" width="3" height="3" fill="#ff0000"/><rect x="236" y="673" width="3" height="3" fill="#ff0000"/><rect x="244" y="675" width="3" height="3" fill="#ff0000"/><rect x="252" y="678" width="3" height="3" fill="#ff0000"/><rect x="260" y="681" width="3" height="3" fill="#ff0000"/><rect x="268" y="686" width="3" height="3" fill="#ff0000"/><rect x="276" y="690" width="3" height="3" fill="#ff0000"/><rect x="284" y="694" width="3" height="3" fill="#ff0000"/><rect x="292" y="699" width="3" height="3" fill="#ff0000"/><rect x="300" y="704" width="3" height="3" fill="#ff0000"/><rect x="308" y="709" width="3" height="3" fill="#ff0000"/><rect x="316" y="713" width="3" height="3" fill="#ff0000"/><rect x="324" y="716" width="3" height="3" fill="#ff0000"/><rect x="332" y="722" width="3" height="3" fill="#ff0000"/><rect x="340" y="727" width="3" height="3" fill="#ff0000"/><rect x="348" y="732" width="3" height="3" fill="#ff0000"/><rect x="356" y="737" width="3" height="3" fill="#ff0000"/><rect x="364" y="742" width="3" height="3" fill="#ff0000"/><rect x="372" y="747" width="3" height="3" fill="#ff0000"/><rect x="380" y="751" width="3" height="3" fill="#ff0000"/><rect x="388" y="755" width="3" height="3" fill="#ff0000"/><rect x="396" y="757" width="3" height="3" fill="#ff0000"/><rect x="404" y="760" width="3" height="3" fill="#ff0000"/><rect x="412" y="764" width="3" height="3" fill="#ff0000"/><rect x="420" y="767" width="3" height="3" fill="#ff0000"/><rect x="428" y="770" width="3" height="3" fill="#ff0000"/><rect x="436" y="772" width="3" height="3" fill="#ff0000"/><rect x="444" y="774" width="3" height="3" fill="#ff0000"/><rect x="452" y="774" width="3" height="3" fill="#ff0000"/><rect x="460" y="775" width="3" height="3" fill="#ff0000"/><rect x="468" y="775" width="3" height="3" fill="#ff0000"/><rect x="476" y="774" width="3" height="3" fill="#ff0000"/><rect x="484" y="771" width="3" height="3" fill="#ff0000"/><rect x="492" y="767" width="3" height="3" fill="#ff0000"/><rect x="500" y="761" width="3" height="3" fill="#ff0000"/><rect x="508" y="754" width="3" height="3" fill="#ff0000"/><rect x="516" y="747" width="3" height="3" fill="#ff0000"/><rect x="524" y="740" width="3" height="3" fill="#ff0000"/><rect x="532" y="732" width="3" height="3" fill="#ff0000"/><rect x="540" y="724" width="3" height="3" fill="#ff0000"/><rect x="548" y="717" width="3" height="3" fill="#ff0000"/><rect x="556" y="712" width="3" height="3" fill="#ff0000"/><rect x="564" y="707" width="3" height="3" fill="#ff0000"/><rect x="572" y="703" width="3" height="3" fill="#ff0000"/><rect x="580" y="699" width="3" height="3" fill="#ff0000"/><rect x="588" y="695" width="3" height="3" fill="#ff0000"/><rect x="596" y="692" width="3" height="3" fill="#ff0000"/><rect x="604" y="689" width="3" height="3" fill="#ff0000"/><rect x="612" y="685" width="3" height="3" fill="#ff0000"/><rect x="620" y="681" width="3" height="3" fill="#ff0000"/><rect x="628" y="677" width="3" height="3" fill="#ff0000"/><rect x="636" y="674" width="3" height="3" fill="#ff0000"/><rect x="644" y="673" width="3" height="3" fill="#ff0000"/><rect x="652" y="672" width="3" height="3" fill="#ff0000"/><rect x="660" y="672" width="3" height="3" fill="#ff0000"/><rect x="668" y="673" width="3" height="3" fill="#ff0000"/><rect x="676" y="676" width="3" height="3" fill="#ff0000"/><rect x="684" y="682" width="3" height="3" fill="#ff0000"/><rect x="692" y="686" width="3" height="3" fill="#ff0000"/><rect x="700" y="691" width="3" height="3" fill="#ff0000"/><rect x="708" y="695" width="3" height="3" fill="#ff0000"/><rect x="716" y="696" width="3" height="3" fill="#ff0000"/><rect x="724" y="696" width="3" height="3" fill="#ff0000"/><rect x="732" y="694" width="3" height="3" fill="#ff0000"/><rect x="740" y="691" width="3" height="3" fill="#ff0000"/><rect x="748" y="686" width="3" height="3" fill="#ff0000"/><rect x="756" y="682" width="3" height="3" fill="#ff0000"/><rect x="764" y="675" width="3" height="3" fill="#ff0000"/><rect x="772" y="669" width="3" height="3" fill="#ff0000"/><rect x="780" y="665" width="3" height="3" fill="#ff0000"/><rect x="788" y="660" width="3" height="3" fill="#ff0000"/><rect x="796" y="656" width="3" height="3" fill="#ff0000"/><rect x="804" y="653" width="3" height="3" fill="#ff0000"/><rect x="812" y="649" width="3" height="3" fill="#ff0000"/><rect x="820" y="648" width="3" height="3" fill="#ff0000"/><rect x="828" y="647" width="3" height="3" fill="#ff0000"/><rect x="836" y="646" width="3" height="3" fill="#ff0000"/><rect x="844" y="646" width="3" height="3" fill="#ff0000"/><rect x="852" y="646" width="3" height="3" fill="#ff0000"/><rect x="860" y="646" width="3" height="3" fill="#ff0000"/><rect x="868" y="646" width="3" height="3" fill="#ff0000"/><rect x="876" y="646" width="3" height="3" fill="#ff0000"/><rect x="884" y="647" width="3" height="3" fill="#ff0000"/><rect x="892" y="647" width="3" height="3" fill="#ff0000"/><rect x="900" y="648" width="3" height="3" fill="#ff0000"/><rect x="908" y="647" width="3" height="3" fill="#ff0000"/><rect x="916" y="646" width="3" height="3" fill="#ff0000"/><rect x="924" y="645" width="3" height="3" fill="#ff0000"/><rect x="932" y="644" width="3" height="3" fill="#ff0000"/><rect x="940" y="643" width="3" height="3" fill="#ff0000"/><rect x="948" y="643" width="3" height="3" fill="#ff0000"/><rect x="956" y="642" width="3" height="3" fill="#ff0000"/><rect x="964" y="640" width="3" height="3" fill="#ff0000"/><rect x="972" y="636" width="3" height="3" fill="#ff0000"/><rect x="980" y="635" width="3" height="3" fill="#ff0000"/><rect x="988" y="634" width="3" height="3" fill="#ff0000"/><rect x="996" y="633" width="3" height="3" fill="#ff0000"/><rect x="1004" y="632" width="3" height="3" fill="#ff0000"/><rect x="1012" y="630" width="3" height="3" fill="#ff0000"/><rect x="1020" y="629" width="3" height="3" fill="#ff0000"/><rect x="1028" y="628" width="3" height="3" fill="#ff0000"/><rect x="1036" y="628" width="3" height="3" fill="#ff0000"/><rect x="1044" y="627" width="3" height="3" fill="#ff0000"/><rect x="1052" y="626" width="3" height="3" fill="#ff0000"/><rect x="1060" y="626" width="3" height="3" fill="#ff0000"/><rect x="1068" y="627" width="3" height="3" fill="#ff0000"/><rect x="1076" y="628" width="3" height="3" fill="#ff0000"/><rect x="1084" y="630" width="3" height="3" fill="#ff0000"/><rect x="1092" y="633" width="3" height="3" fill="#ff0000"/><rect x="1100" y="637" width="3" height="3" fill="#ff0000"/><rect x="1108" y="642" width="3" height="3" fill="#ff0000"/><rect x="1116" y="649" width="3" height="3" fill="#ff0000"/><rect x="1124" y="656" width="3" height="3" fill="#ff0000"/><rect x="1132" y="663" width="3" height="3" fill="#ff0000"/><rect x="1140" y="671" width="3" height="3" fill="#ff0000"/><rect x="1148" y="679" width="3" height="3" fill="#ff0000"/></g><rect x="1455" y="55" width="2" height="1" fill="#000"/><rect x="1455" y="120" width="2" height="1" fill="#000"/><rect x="1455" y="185" width="2" height="1" fill="#000"/><rect x="1455" y="250" width="2" height="1" fill="#000"/><rect x="1455" y="315" width="2" height="1" fill="#000"/><rect x="1455" y="380" width="2" height="1" fill="#000"/><rect x="1455" y="445" width="2" height="1" fill="#000"/><rect x="1455" y="510" width="2" height="1" fill="#000"/><rect x="1455" y="575" width="2" height="1" fill="#000"/><rect x="1455" y="614" width="2" height="1" fill="#000"/><rect x="1455" y="698" width="2" height="1" fill="#000"/><rect x="1455" y="795" width="2" height="1" fill="#000"/><rect x="5" y="797" width="1" height="3" fill="#000"/><rect x="133" y="797" width="1" height="3" fill="#000"/><rect x="261" y="797" width="1" height="3" fill="#000"/><rect x="389" y="797" width="1" height="3" fill="#000"/><rect x="517" y="797" width="1" height="3" fill="#000"/><rect x="645" y="797" width="1" height="3" fill="#000"/><rect x="773" y="797" width="1" height="3" fill="#000"/><rect x="901" y="797" width="1" height="3" fill="#000"/><rect x="1029" y="797" width="1" height="3" fill="#000"/><polygon points="1155,5 1170,5 1162.5,12.8" fill="#778899" shape-rendering="auto"/><polygon points="8,12 19,12 13.5,18" fill="#000" shape-rendering="auto"/><rect x="1456" y="157" width="62" height="17" fill="#0000cd"/><rect x="1456" y="239" width="62" height="17" fill="#0000cd"/><rect x="1456" y="282" width="62" height="17" fill="#000"/><g font-family='"Liberation Sans", Tahoma, sans-serif' font-size="14px" shape-rendering="auto"><text id="h0" x="24.93" y="21" fill="#000" textLength="73.83" lengthAdjust="spacingAndGlyphs">JPN225-,H4</text><text id="h1" x="106.35" y="21" fill="#000" textLength="52.37" lengthAdjust="spacingAndGlyphs">32398.5</text><text id="h2" x="162.58" y="21" fill="#000" textLength="51.54" lengthAdjust="spacingAndGlyphs">32513.5</text><text id="h3" x="219.00" y="21" fill="#000" textLength="50.82" lengthAdjust="spacingAndGlyphs">32313.5</text><text id="h4" x="274.37" y="21" fill="#000" textLength="51.75" lengthAdjust="spacingAndGlyphs">32333.5</text><text id="macd1" x="8.71" y="630" fill="#000" textLength="95.83" lengthAdjust="spacingAndGlyphs">MACD(12,26,9)</text><text id="macd2" x="107.87" y="630" fill="#000" textLength="40.85" lengthAdjust="spacingAndGlyphs">-58.08</text><text id="macd3" x="153.00" y="630" fill="#000" textLength="36.49" lengthAdjust="spacingAndGlyphs">45.72</text><text id="p0" x="1460.15" y="61" fill="#000" textLength="52.98" lengthAdjust="spacingAndGlyphs">33194.0</text><text id="p1" x="1460.15" y="126" fill="#000" textLength="52.98" lengthAdjust="spacingAndGlyphs">32956.0</text><text id="p2" x="1460.15" y="191" fill="#000" textLength="52.98" lengthAdjust="spacingAndGlyphs">32718.0</text><text id="p4" x="1460.15" y="321" fill="#000" textLength="52.98" lengthAdjust="spacingAndGlyphs">32242.0</text><text id="p5" x="1460.15" y="386" fill="#000" textLength="52.98" lengthAdjust="spacingAndGlyphs">32004.0</text><text id="p6" x="1460.15" y="451" fill="#000" textLength="52.98" lengthAdjust="spacingAndGlyphs">31766.0</text><text id="p7" x="1460.15" y="516" fill="#000" textLength="52.98" lengthAdjust="spacingAndGlyphs">31528.0</text><text id="p8" x="1460.15" y="581" fill="#000" textLength="52.98" lengthAdjust="spacingAndGlyphs">31290.0</text><text id="w1" x="1460.35" y="171" fill="#fff" textLength="53.09" lengthAdjust="spacingAndGlyphs">32800.0</text><text id="w2" x="1460.35" y="253" fill="#fff" textLength="53.09" lengthAdjust="spacingAndGlyphs">32500.0</text><text id="w3" x="1460.25" y="296" fill="#fff" textLength="53.19" lengthAdjust="spacingAndGlyphs">32333.5</text><text id="m1" x="1457.14" y="628" fill="#000" textLength="45.44" lengthAdjust="spacingAndGlyphs">221.76</text><text id="m2" x="1457.58" y="704" fill="#000" textLength="27.88" lengthAdjust="spacingAndGlyphs">0.00</text><text id="m3" x="1457.26" y="792" fill="#000" textLength="49.24" lengthAdjust="spacingAndGlyphs">-256.41</text><text id="t0" x="3.28" y="814" fill="#000" textLength="72.50" lengthAdjust="spacingAndGlyphs">7 Aug 2023</text><text id="t1" x="131.16" y="814" fill="#000" textLength="77.62" lengthAdjust="spacingAndGlyphs">9 Aug 23:30</text><text id="t2" x="259.77" y="814" fill="#000" textLength="85.08" lengthAdjust="spacingAndGlyphs">14 Aug 14:55</text><text id="t3" x="387.88" y="814" fill="#000" textLength="84.37" lengthAdjust="spacingAndGlyphs">17 Aug 04:00</text><text id="t4" x="514.96" y="814" fill="#000" textLength="86.00" lengthAdjust="spacingAndGlyphs">21 Aug 23:30</text><text id="t5" x="643.17" y="814" fill="#000" textLength="84.77" lengthAdjust="spacingAndGlyphs">24 Aug 14:55</text><text id="t6" x="770.96" y="814" fill="#000" textLength="86.00" lengthAdjust="spacingAndGlyphs">29 Aug 04:00</text><text id="t7" x="899.17" y="814" fill="#000" textLength="84.77" lengthAdjust="spacingAndGlyphs">31 Aug 23:30</text><text id="t8" x="1027.18" y="814" fill="#000" textLength="76.84" lengthAdjust="spacingAndGlyphs">5 Sep 18:55</text></g></svg>
</body></html>
